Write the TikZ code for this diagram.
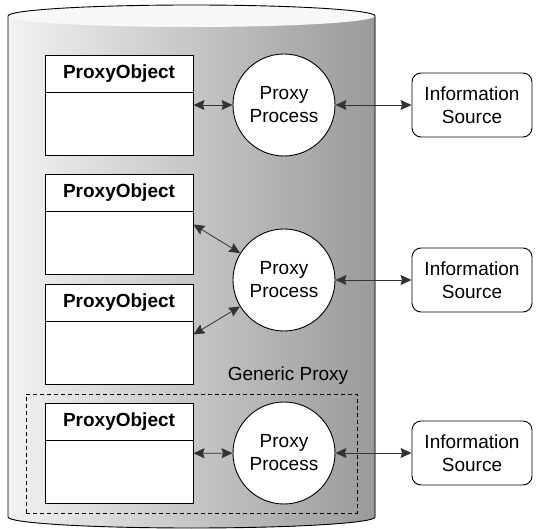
\documentclass[tikz,border=0pt]{standalone}
\usepackage{fontspec}
\setmainfont{Liberation Sans}
\usetikzlibrary{arrows.meta}
\definecolor{drumLight}{HTML}{F2F2F2}
\definecolor{drumDark}{HTML}{9A9A9A}
\definecolor{drumTop}{HTML}{F8F8F8}
\definecolor{linkGray}{HTML}{333333}

\begin{document}
\begin{tikzpicture}[x=1pt, y=1pt, line width=0.9pt, >={Stealth[length=11pt, width=10pt, inset=1.5pt]},
    every node/.style={font=\fontsize{19}{23}\selectfont},
    objbox/.style={draw, fill=white, minimum width=148pt, minimum height=100pt, inner sep=0pt},
    objhead/.style={anchor=north, minimum width=148pt, minimum height=37pt, inner sep=0pt, font=\fontsize{19}{23}\selectfont\bfseries},
    procnode/.style={draw, circle, fill=white, minimum size=102pt, inner sep=0pt, align=center},
    srcnode/.style={draw, fill=white, rounded corners=9pt, minimum width=120pt, minimum height=64pt, inner sep=0pt, align=center},
    link/.style={<->, draw=linkGray, line width=0.8pt}]
  \useasboundingbox (0,0) rectangle (536,-529);
  % drum
  \fill[left color=drumLight, right color=drumDark] (8,-16) -- (8,-517) arc[start angle=180, end angle=360, x radius=183.5pt, y radius=11pt] -- (375,-16) -- cycle;
  \fill[drumTop] (191.5,-16) ellipse[x radius=183.5pt, y radius=11pt];
  \draw (375,-16) arc[start angle=0, end angle=180, x radius=183.5pt, y radius=11pt] -- (8,-517) arc[start angle=180, end angle=360, x radius=183.5pt, y radius=11pt] -- cycle;
  % generic proxy frame
  \node[draw, dash pattern=on 4pt off 3pt, line width=0.8pt, minimum width=331pt, minimum height=119pt, inner sep=0pt] (generic) at (191.5,-453.5) {};
  \node[anchor=base east] (genericLabel) at (352,-381) {Generic Proxy};
  % proxy objects
  \foreach \i/\y in {1/105, 2/224.5, 3/334.5, 4/453.5} {
    \node[objbox] (obj\i) at (119,-\y) {};
    \node[objhead] (head\i) at (obj\i.north) {ProxyObject};
    \draw (head\i.south west) -- (head\i.south east);
  }
  % processes and sources
  \foreach \i/\y in {1/105, 2/280, 3/453} {
    \node[procnode] (proc\i) at (284,-\y) {Proxy\\Process};
    \node[srcnode] (src\i) at (472,-\y) {Information\\Source};
    \draw[link] (proc\i) -- (src\i);
  }
  \draw[link] (obj1) -- (proc1);
  \draw[link] (obj2.east) -- (proc2);
  \draw[link] (obj3.east) -- (proc2);
  \draw[link] (obj4) -- (proc3);
\end{tikzpicture}
\end{document}
